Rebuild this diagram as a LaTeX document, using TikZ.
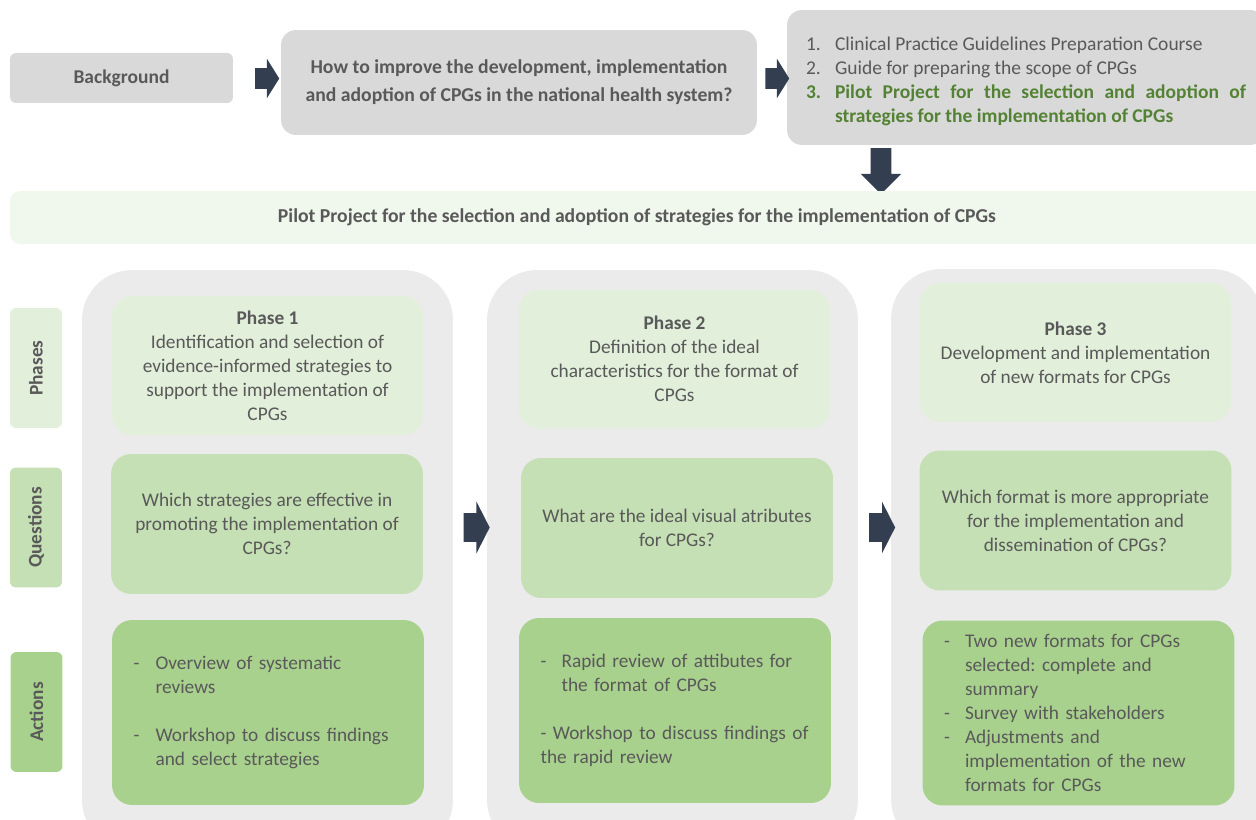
\documentclass[tikz,border=0pt]{standalone}
\usepackage{fontspec}
\setmainfont{Carlito}
\usetikzlibrary{shapes.arrows}
\definecolor{boxgray}{HTML}{D9D9D9}
\definecolor{colgray}{HTML}{EBEBEB}
\definecolor{phasegreen}{HTML}{E2EFDA}
\definecolor{questgreen}{HTML}{C5E0B4}
\definecolor{actgreen}{HTML}{A9D18E}
\definecolor{bannergreen}{HTML}{F0F7EC}
\definecolor{textgray}{HTML}{595959}
\definecolor{itemgreen}{HTML}{548235}
\definecolor{arrowblue}{HTML}{333F50}
\frenchspacing

\begin{document}
\begin{tikzpicture}[x=0.02cm,y=-0.02cm,
  every node/.style={text=textgray,font=\fontsize{11}{13.66}\selectfont},
  greybox/.style={fill=boxgray,rounded corners=0.3cm},
  column/.style={fill=colgray,rounded corners=1cm,minimum width=7.42cm,minimum height=11.6cm},
  phasebox/.style={fill=phasegreen,rounded corners=0.4cm,minimum width=6.22cm,minimum height=2.78cm,align=center},
  questbox/.style={fill=questgreen,rounded corners=0.4cm,minimum width=6.24cm,minimum height=2.8cm,align=center},
  actbox/.style={fill=actgreen,rounded corners=0.4cm,text width=5.38cm,inner xsep=0.43cm,minimum height=3.7cm,align=left},
  sidelabel/.style={rounded corners=0.12cm,rotate=90,minimum width=2.4cm,minimum height=1.04cm,font=\fontsize{11}{13.66}\selectfont\bfseries},
  blockarrow/.style={single arrow,fill=arrowblue,inner xsep=0pt}
]
\clip (0,0) rectangle (1256,820);

% top row
\node[greybox,rounded corners=0.12cm,minimum width=4.46cm,minimum height=1cm,font=\fontsize{11.1}{13.66}\selectfont\bfseries] (background) at (121.5,78) {Background};
\node[greybox,minimum width=9.52cm,minimum height=2.1cm,align=center,font=\fontsize{11.2}{15.9}\selectfont\bfseries] (question) at (519,82.5)
  {How to improve the development, implementation\\and adoption of CPGs in the national health system?};
\node[greybox,text width=8.8cm,inner xsep=0.38cm,minimum height=2.7cm,align=justify,font=\fontsize{11.1}{13.66}\selectfont] (list) at (1026,77.5) {%
  \noindent\rule{0pt}{11.7pt}\makebox[0.58cm][l]{1.}Clinical Practice Guidelines Preparation Course\par
  \noindent\makebox[0.58cm][l]{2.}Guide for preparing the scope of CPGs\par
  \noindent\hangindent=0.58cm\hangafter=1{\color{itemgreen}\bfseries\makebox[0.58cm][l]{3.}Pilot Project for the selection and adoption of\linebreak strategies for the implementation of CPGs\par}};
\node[blockarrow,minimum height=0.48cm,inner ysep=0.2cm,single arrow head extend=0.19cm,single arrow tip angle=116] (arrow1) at (264,78.5) {};
\node[blockarrow,minimum height=0.48cm,inner ysep=0.2cm,single arrow head extend=0.19cm,single arrow tip angle=116] (arrow2) at (774,78.5) {};
\node[blockarrow,shape border rotate=270,minimum height=0.92cm,inner sep=0.2cm,single arrow head extend=0.2cm,single arrow tip angle=90] (down) at (881,166) {};

% banner
\node[fill=bannergreen,rounded corners=0.2cm,minimum width=25.08cm,minimum height=1.06cm,font=\fontsize{11.2}{13.66}\selectfont\bfseries] (banner) at (637,217.5)
  {Pilot Project for the selection and adoption of strategies for the implementation of CPGs};

% columns
\node[column] (col1) at (267.5,560) {};
\node[column] (col2) at (672.5,560) {};
\node[column] (col3) at (1076.5,559) {};

% side labels
\node[sidelabel,fill=phasegreen] (phases) at (36,368) {Phases};
\node[sidelabel,fill=questgreen] (questions) at (36,527.5) {Questions};
\node[sidelabel,fill=actgreen] (actions) at (36.5,712) {Actions};

% phase 1
\node[phasebox] (phase1) at (267.5,365.5) {\textbf{Phase 1}\\Identification and selection of\\evidence-informed strategies to\\support the implementation of\\CPGs};
\node[questbox] (quest1) at (267,524) {Which strategies are effective in\\promoting the implementation of\\CPGs?};
\node[actbox] (act1) at (268,712.5) {\makebox[0.44cm][l]{-}Overview of systematic\\\hspace*{0.44cm}reviews\\[13.66pt]
  \makebox[0.44cm][l]{-}Workshop to discuss findings\\\hspace*{0.44cm}and select strategies};

% phase 2
\node[phasebox] (phase2) at (674.5,359) {\textbf{Phase 2}\\Definition of the ideal\\characteristics for the format of\\CPGs};
\node[questbox] (quest2) at (677,528) {What are the ideal visual atributes\\for CPGs?};
\node[actbox] (act2) at (675,710.5) {\makebox[0.42cm][l]{-}Rapid review of attibutes for\\\hspace*{0.42cm}the format of CPGs\\[13.66pt]
  - Workshop to discuss findings of\\the rapid review};

% phase 3
\node[phasebox] (phase3) at (1075.5,352.5) {\textbf{Phase 3}\\Development and implementation\\of new formats for CPGs};
\node[questbox] (quest3) at (1075.5,520.5) {Which format is more appropriate\\for the implementation and\\dissemination of CPGs?};
\node[actbox] (act3) at (1078.5,713) {\makebox[0.42cm][l]{-}Two new formats for CPGs\\\hspace*{0.42cm}selected: complete and\\\hspace*{0.42cm}summary\\
  \makebox[0.42cm][l]{-}Survey with stakeholders\\
  \makebox[0.42cm][l]{-}Adjustments and\\\hspace*{0.42cm}implementation of the new\\\hspace*{0.42cm}formats for CPGs};

% arrows between phases
\node[blockarrow,minimum height=0.52cm,inner ysep=0.28cm,single arrow head extend=0.23cm,single arrow tip angle=126] (next1) at (473,527.5) {};
\node[blockarrow,minimum height=0.52cm,inner ysep=0.28cm,single arrow head extend=0.23cm,single arrow tip angle=126] (next2) at (878.5,527.5) {};
\end{tikzpicture}
\end{document}
